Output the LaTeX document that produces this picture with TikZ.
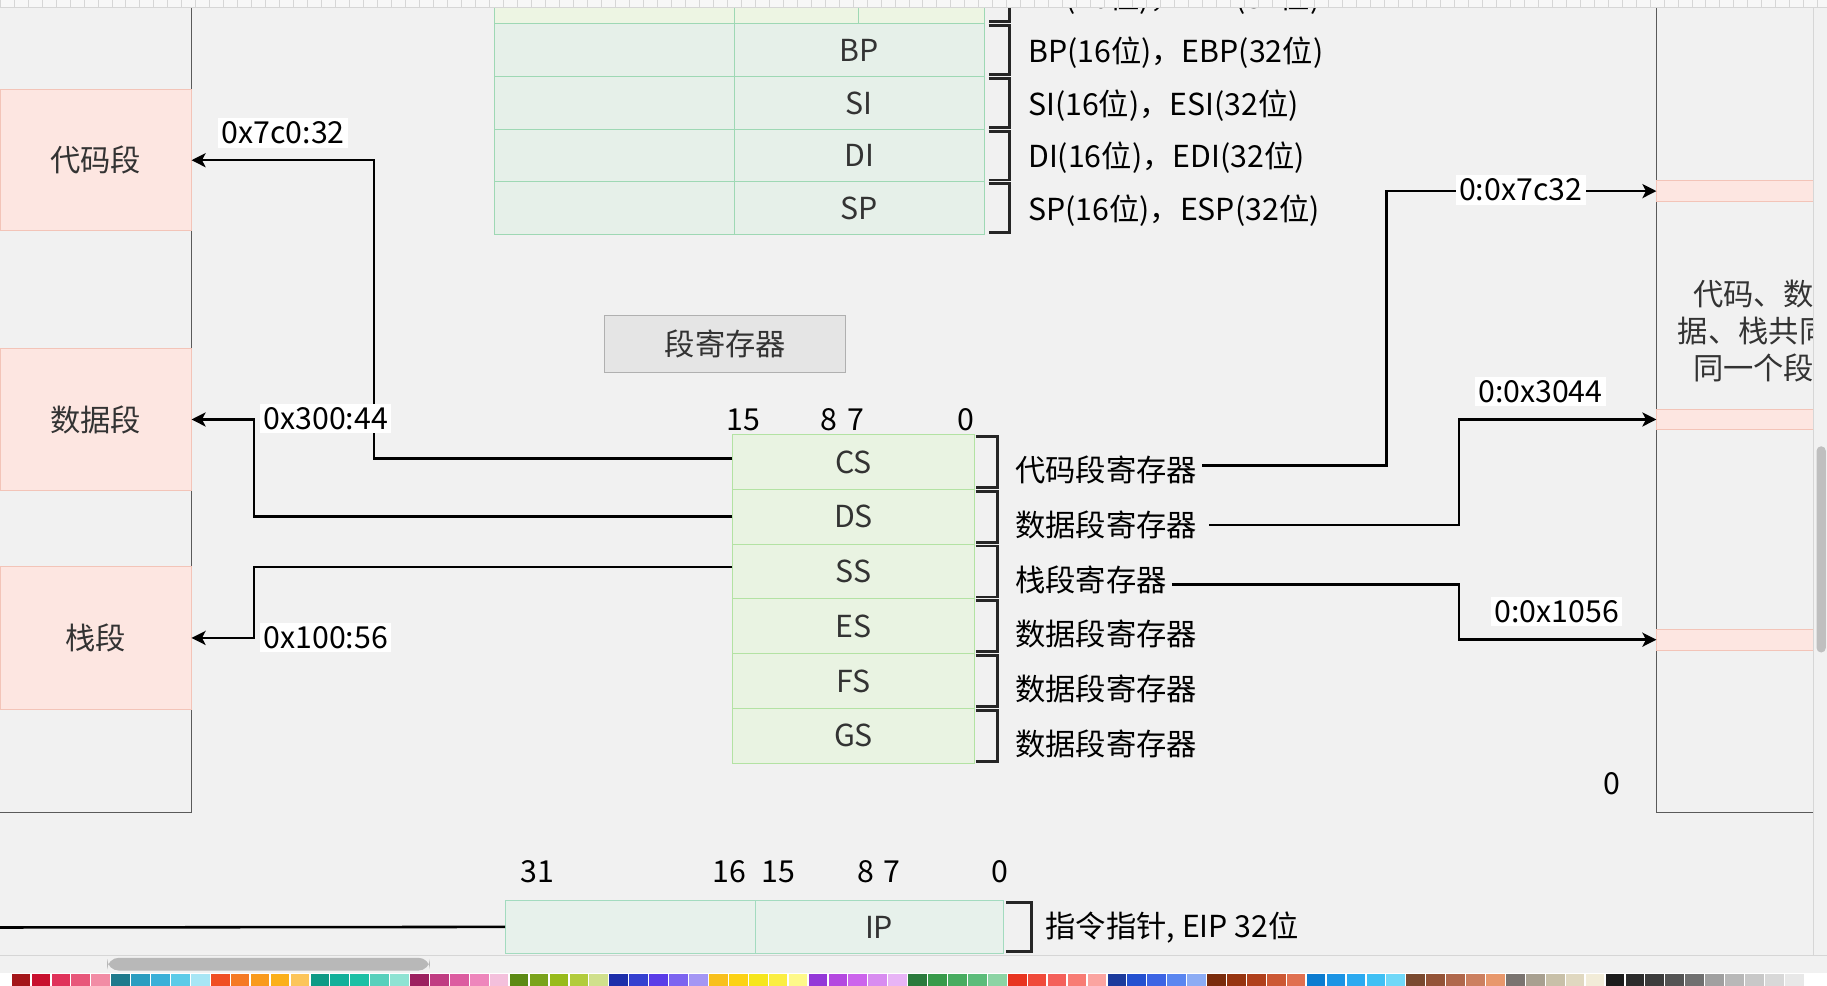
\documentclass[tikz,border=0pt]{standalone}
\usepackage{fontspec}
\setmainfont{Noto Sans CJK SC}
\usetikzlibrary{arrows.meta}

\definecolor{canvas}{HTML}{F1F1F1}
\definecolor{memline}{HTML}{5A5A5A}
\definecolor{segfill}{HTML}{FDE6E1}
\definecolor{segline}{HTML}{F3C4B8}
\definecolor{gprfill}{HTML}{E6F0E9}
\definecolor{gprline}{HTML}{9ED8B4}
\definecolor{gprtop}{HTML}{EDF5E3}
\definecolor{sregfill}{HTML}{E9F3E2}
\definecolor{sregline}{HTML}{B3E2A3}
\definecolor{ipfill}{HTML}{E7F1EB}
\definecolor{ipline}{HTML}{A3DBBF}
\definecolor{boxfill}{HTML}{E5E5E5}
\definecolor{boxline}{HTML}{B0B0B0}
\definecolor{txt}{HTML}{333333}
\definecolor{uiline}{HTML}{D6D6D6}

\tikzset{
  memseg/.style={draw=segline, fill=segfill, text=txt, minimum width=82pt, inner sep=0pt},
  gprcell/.style={draw=gprline, fill=gprfill, text=txt, minimum height=22.5pt, inner sep=0pt},
  sregcell/.style={draw=sregline, fill=sregfill, text=txt, minimum width=103.5pt, minimum height=23.5pt, inner sep=0pt},
  ipcell/.style={draw=ipline, fill=ipfill, text=txt, minimum height=22.5pt, inner sep=0pt},
  brace/.style={draw=black!85, line width=1.2pt},
  wire/.style={draw=black, line width=1.1pt},
  link/.style={wire, -{Stealth[length=6pt,width=6pt,inset=1.5pt]}},
  note/.style={inner sep=2pt, text=black},
  tag/.style={fill=white, inner sep=1.5pt, text=black},
  bit/.style={inner sep=1pt, text=black}
}

\begin{document}
\begin{tikzpicture}[x=0.5pt, y=-0.5pt, font=\fontsize{13}{16}\selectfont]
\useasboundingbox (0,0) rectangle (1568,846);
\clip (0,0) rectangle (1568,846);
\fill[canvas] (0,0) rectangle (1568,846);

% memory columns
\draw[memline, fill=canvas] (-10,-10) rectangle (164,697);
\draw[memline, fill=canvas] (1422,-10) rectangle (1586,697);
\node[memseg, minimum height=60.5pt] (codeseg) at (82,137.5) {代码段};
\node[memseg, minimum height=61pt] (dataseg) at (82,360) {数据段};
\node[memseg, minimum height=61.5pt] (stackseg) at (82,547.5) {栈段};
\node[memseg, minimum height=9pt] (strip1) at (1504,164) {};
\node[memseg, minimum height=9pt] (strip2) at (1504,360) {};
\node[memseg, minimum height=9pt] (strip3) at (1504,549) {};
\node[text=txt, align=center, inner sep=0pt] (shared) at (1505,284) {代码、数\\据、栈共同\\同一个段};
\node[bit] (memzero) at (1383,673) {0};

% general registers
\node[gprcell, fill=gprtop, minimum width=103pt] (hidx) at (527,-2.5) {};
\node[gprcell, fill=gprtop, minimum width=53.5pt] (dh) at (683.5,-2.5) {};
\node[gprcell, fill=gprtop, minimum width=54pt] (dl) at (791,-2.5) {};
\draw[brace] ([shift={(3,2)}]dl.north east) -- ++(18,0) |- ([shift={(3,-2)}]dl.south east);
\node[note, anchor=west] (txtdx) at (878,-1) {DX(16位)，EDX(32位)};
\foreach \n/\t/\y in {bp/BP/43, si/SI/88.5, di/DI/133.5, sp/SP/178.5} {
  \node[gprcell, minimum width=103pt] (hi\n) at (527,\y) {};
  \node[gprcell, minimum width=107.5pt] (\n) at (737.5,\y) {\t};
  \draw[brace] ([shift={(3,2)}]\n.north east) -- ++(18,0) |- ([shift={(3,-2)}]\n.south east);
  \node[note, anchor=west] (txt\n) at (878,\y+2) {\t(16位)，E\t(32位)};
}

\node[draw=boxline, fill=boxfill, text=txt, minimum width=103.5pt, minimum height=24.5pt] (segtitle) at (622.5,295.5) {段寄存器};

% segment registers
\foreach \x/\t [count=\i] in {638/15, 723/8\hspace{4pt}7, 829/0}
  \node[bit] (segbit\i) at (\x,360) {\t};
\foreach \n/\t/\y/\d in {cs/CS/396.5/代码段寄存器, ds/DS/443.5/数据段寄存器, ss/SS/490.5/栈段寄存器, es/ES/537.5/数据段寄存器, fs/FS/584.5/数据段寄存器, gs/GS/631.5/数据段寄存器} {
  \node[sregcell] (\n) at (732.5,\y) {\t};
  \draw[brace] ([shift={(1,2)}]\n.north east) -- ++(19,0) |- ([shift={(1,-2)}]\n.south east);
  \node[note, anchor=west] (txt\n) at (867,\y+7) {\d};
}

% connectors
\coordinate (lb1) at (321,0);
\coordinate (lb2) at (218,0);
\coordinate (rb1) at (1190,0);
\coordinate (rb2) at (1252,0);
\draw[link] ([yshift=1.5pt]cs.west) -- ([yshift=1.5pt]cs.west -| lb1) |- (codeseg.east);
\draw[link] (ds.west) -- (ds.west -| lb2) |- (dataseg.east);
\draw[link] ([yshift=2pt]ss.west) -- ([yshift=2pt]ss.west -| lb2) |- (stackseg.east);
\draw[link] ([yshift=2pt]txtcs.east) -- ([yshift=2pt]txtcs.east -| rb1) |- (strip1.west);
\draw[link] ([xshift=3pt]txtds.east) -- (txtds.east -| rb2) |- (strip2.west);
\draw[link] ([yshift=-2pt]txtss.east) -- ([yshift=-2pt]txtss.east -| rb2) |- (strip3.west);
\node[tag] (addrcs) at (243,114) {0x7c0:32};
\node[tag] (addrds) at (279.5,359) {0x300:44};
\node[tag] (addrss) at (279.5,547) {0x100:56};
\node[tag] (flatcs) at (1305,163) {0:0x7c32};
\node[tag] (flatds) at (1322,336) {0:0x3044};
\node[tag] (flatss) at (1336,525) {0:0x1056};

% instruction pointer
\foreach \x/\t [count=\i] in {461/31, 626/16, 668/15, 754/8\hspace{4pt}7, 858/0}
  \node[bit] (ipbit\i) at (\x,748) {\t};
\node[ipcell, minimum width=107pt] (iphi) at (541,795.5) {};
\node[ipcell, minimum width=106.5pt] (ip) at (754.5,795.5) {IP};
\coordinate (ipin) at (0,796);
\draw[wire] (ipin) -- (iphi.west);
\draw[brace] ([shift={(2,2)}]ip.north east) -- ++(22,0) |- ([shift={(2,-2)}]ip.south east);
\node[note, anchor=west] (txtip) at (893,796) {指令指针, EIP 32位};

% editor frame
\fill[canvas] (1556,0) rectangle (1568,846);
\draw[uiline] (1556,0) -- (1556,820);
\fill[black!25, rounded corners=2pt] (1559,383) rectangle (1567,560);
\fill[white!97!black] (0,0) rectangle (1568,6);
\foreach \x in {0,12,...,1560}
  \draw[uiline, line width=0.3pt] (\x,0) -- (\x,6);
\draw[uiline] (0,6) -- (1568,6);
\fill[canvas] (0,820) rectangle (1568,846);
\draw[uiline] (0,820) -- (1568,820);
\fill[black!28, rounded corners=5pt] (92,822) rectangle (369,833);
\fill[white] (0,835) rectangle (1568,846);
\foreach \c [count=\i from 0] in {A4161A,C8102E,E0325A,E8577A,F28CA5, 1E7A8C,2A9DC0,3AB0D8,5CCBE8,A8E6F5,
  F04E23,F57A24,F99A1C,FBB01A,FCC55A, 0E9A85,12B09A,1CC0A5,58D0BC,8FE3D3,
  9C2160,C03C82,DC5CA0,EE86BC,F4C0DC, 5C8A14,7AA31C,98BB1C,B2CC3C,D0E08C,
  1D2EAA,3440D0,5A3CE8,7C64F0,A496F4, F8C01C,FCD214,F6E61C,FBEE42,FEF98A,
  9438D8,B448E0,CC64EC,D88CF0,E8B4F6, 2A7A3C,389A4A,48AC60,5CBC7A,8CD4A4,
  E83420,F04A3A,F4605A,F87C74,FBA4A0, 1C3A9C,2450D0,3C64E4,5A86F0,8CACF4,
  7A2C0C,963410,B0401C,CC5834,E07050, 0C7CD0,1C94E4,2CAAF0,40C0F4,70D8F8,
  7A4A30,945438,B0684C,CC8060,E8986C, 7A7470,A8A090,C8C0A8,E0D8C0,F2ECD8,
  1C1C1C,2C2C2C,3C3C3C,545454,707070, A0A0A0,B8B8B8,C8C8C8,D8D8D8,E8E8E8} {
  \definecolor{pal}{HTML}{\c}
  \fill[pal] ({10+17.1*\i},836) rectangle ++(16,10);
}
\end{tikzpicture}
\end{document}
